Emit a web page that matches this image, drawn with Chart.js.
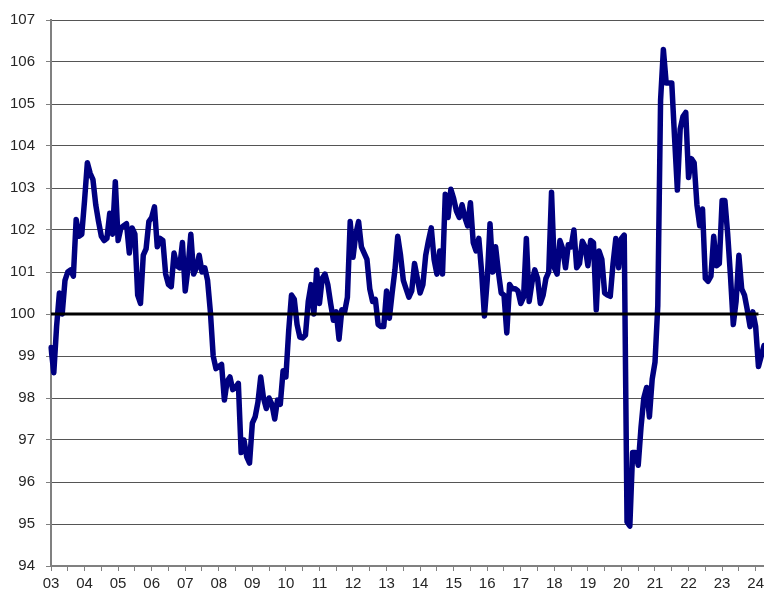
<!DOCTYPE html>
<html>
<head>
<meta charset="utf-8">
<script src="https://cdn.jsdelivr.net/npm/chart.js@4.4.1/dist/chart.umd.min.js"></script>
<style>
    html, body { margin: 0; padding: 0; background: #ffffff; overflow: hidden; }
    #wrap { width: 764px; height: 592px; overflow: hidden; }
</style>
</head>
<body>
<div id="wrap"><canvas id="myChart" width="768" height="592"></canvas></div>
<script>
// monthly index, Jan 2003 .. Apr 2024
var firstYear = 2003;
var indexValues = [
    99.2, 98.6, 99.7, 100.5, 100.0, 100.8, 101.0, 101.05, 100.9, 102.25, 101.85, 101.9,        // 03
    102.7, 103.6, 103.35, 103.2, 102.6, 102.2, 101.85, 101.75, 101.8, 102.4, 101.9, 103.15,    // 04
    101.75, 102.05, 102.1, 102.15, 101.45, 102.05, 101.9, 100.45, 100.25, 101.4, 101.55, 102.2, // 05
    102.3, 102.55, 101.6, 101.8, 101.75, 100.95, 100.7, 100.65, 101.45, 101.15, 101.1, 101.7,  // 06
    100.55, 101.1, 101.9, 100.95, 101.1, 101.4, 101.0, 101.1, 100.8, 100.05, 99.0, 98.7,       // 07
    98.75, 98.8, 97.95, 98.4, 98.5, 98.2, 98.25, 98.35, 96.7, 97.0, 96.6, 96.45,               // 08
    97.4, 97.55, 97.9, 98.5, 98.0, 97.75, 98.0, 97.85, 97.5, 97.95, 97.85, 98.65,              // 09
    98.5, 99.6, 100.45, 100.35, 99.75, 99.45, 99.43, 99.5, 100.3, 100.7, 100.0, 101.05,        // 10
    100.25, 100.85, 100.95, 100.7, 100.25, 99.85, 100.05, 99.4, 100.1, 100.05, 100.4, 102.2,   // 11
    101.35, 101.9, 102.2, 101.6, 101.45, 101.3, 100.6, 100.3, 100.35, 99.75, 99.7, 99.7,       // 12
    100.55, 99.9, 100.5, 101.05, 101.85, 101.4, 100.8, 100.6, 100.4, 100.55, 101.2, 100.85,    // 13
    100.5, 100.7, 101.4, 101.75, 102.05, 101.3, 100.95, 101.5, 100.95, 102.85, 102.3, 102.97,  // 14
    102.75, 102.45, 102.3, 102.6, 102.3, 102.1, 102.65, 101.7, 101.5, 101.8, 101.0, 99.95,     // 15
    100.8, 102.15, 101.0, 101.6, 101.0, 100.5, 100.45, 99.55, 100.7, 100.6, 100.6, 100.55,     // 16
    100.25, 100.4, 101.8, 100.3, 100.75, 101.05, 100.85, 100.25, 100.45, 100.85, 101.0, 102.9, // 17
    101.1, 100.95, 101.75, 101.55, 101.1, 101.65, 101.6, 102.0, 101.1, 101.2, 101.73, 101.6,   // 18
    101.15, 101.75, 101.7, 100.1, 101.5, 101.3, 100.5, 100.45, 100.42, 101.2, 101.8, 101.1,    // 19
    101.8, 101.88, 95.05, 94.95, 96.7, 96.7, 96.4, 97.3, 98.0, 98.25, 97.55, 98.45,            // 20
    98.85, 100.2, 105.1, 106.3, 105.5, 105.5, 105.5, 104.2, 102.95, 104.4, 104.7, 104.8,       // 21
    103.25, 103.7, 103.6, 102.6, 102.1, 102.5, 100.85, 100.78, 100.9, 101.85, 101.15, 101.2,   // 22
    102.7, 102.7, 101.9, 100.9, 99.75, 100.3, 101.4, 100.6, 100.45, 100.1, 99.7, 100.05,       // 23
    99.7, 98.75, 99.0, 99.25                                                                   // 24
];
var yearTicks = ['03', '04', '05', '06', '07', '08', '09', '10', '11', '12', '13',
                 '14', '15', '16', '17', '18', '19', '20', '21', '22', '23', '24'];
var baseLevel = 100;
var baseLineMonths = 254;   // the 100 line stops a little short of the last point

var months = [];
for (var i = 0; i < indexValues.length; i++) {
    months.push((firstYear + Math.floor(i / 12)) + '-' + (i % 12 + 1));
}
var baseLine = months.map(function (m, i) { return i < baseLineMonths ? baseLevel : null; });

const ctx = document.getElementById('myChart').getContext('2d');
const myChart = new Chart(ctx, {
    type: 'line',
    data: {
        labels: months,
        datasets: [{
            label: 'base',
            data: baseLine,
            borderColor: '#000000',
            borderWidth: 3,
            pointRadius: 0,
            order: 0
        }, {
            label: 'index',
            data: indexValues,
            borderColor: '#000080',
            borderWidth: 5.5,
            borderJoinStyle: 'round',
            borderCapStyle: 'round',
            pointRadius: 0,
            tension: 0,
            order: 1
        }]
    },
    options: {
        responsive: false,
        animation: false,
        layout: { padding: { top: 18, right: 0, left: 0, bottom: 0 } },
        plugins: {
            legend: { display: false },
            tooltip: { enabled: false }
        },
        scales: {
            x: {
                offset: false,
                border: { color: '#808080', width: 2 },
                grid: { drawOnChartArea: false, tickLength: 5, tickColor: '#808080', tickWidth: 1 },
                ticks: {
                    autoSkip: false,
                    maxRotation: 0,
                    padding: 4,
                    color: '#262626',
                    font: { family: 'Liberation Sans, Arial', size: 15 },
                    callback: function (value, index) {
                        if (index % 12 === 0) return yearTicks[index / 12];
                        if (index % 12 === 6) return '';
                        return null;
                    }
                },
                afterFit: function (scale) { scale.height = 26; }
            },
            y: {
                min: 94,
                max: 107,
                border: { color: '#808080', width: 2 },
                grid: { color: '#555555', lineWidth: 1, tickLength: 5, tickColor: '#808080' },
                ticks: {
                    stepSize: 1,
                    padding: 11,
                    color: '#262626',
                    font: { family: 'Liberation Sans, Arial', size: 15 }
                },
                afterFit: function (scale) { scale.width = 51; }
            }
        }
    }
});
</script>
</body>
</html>
